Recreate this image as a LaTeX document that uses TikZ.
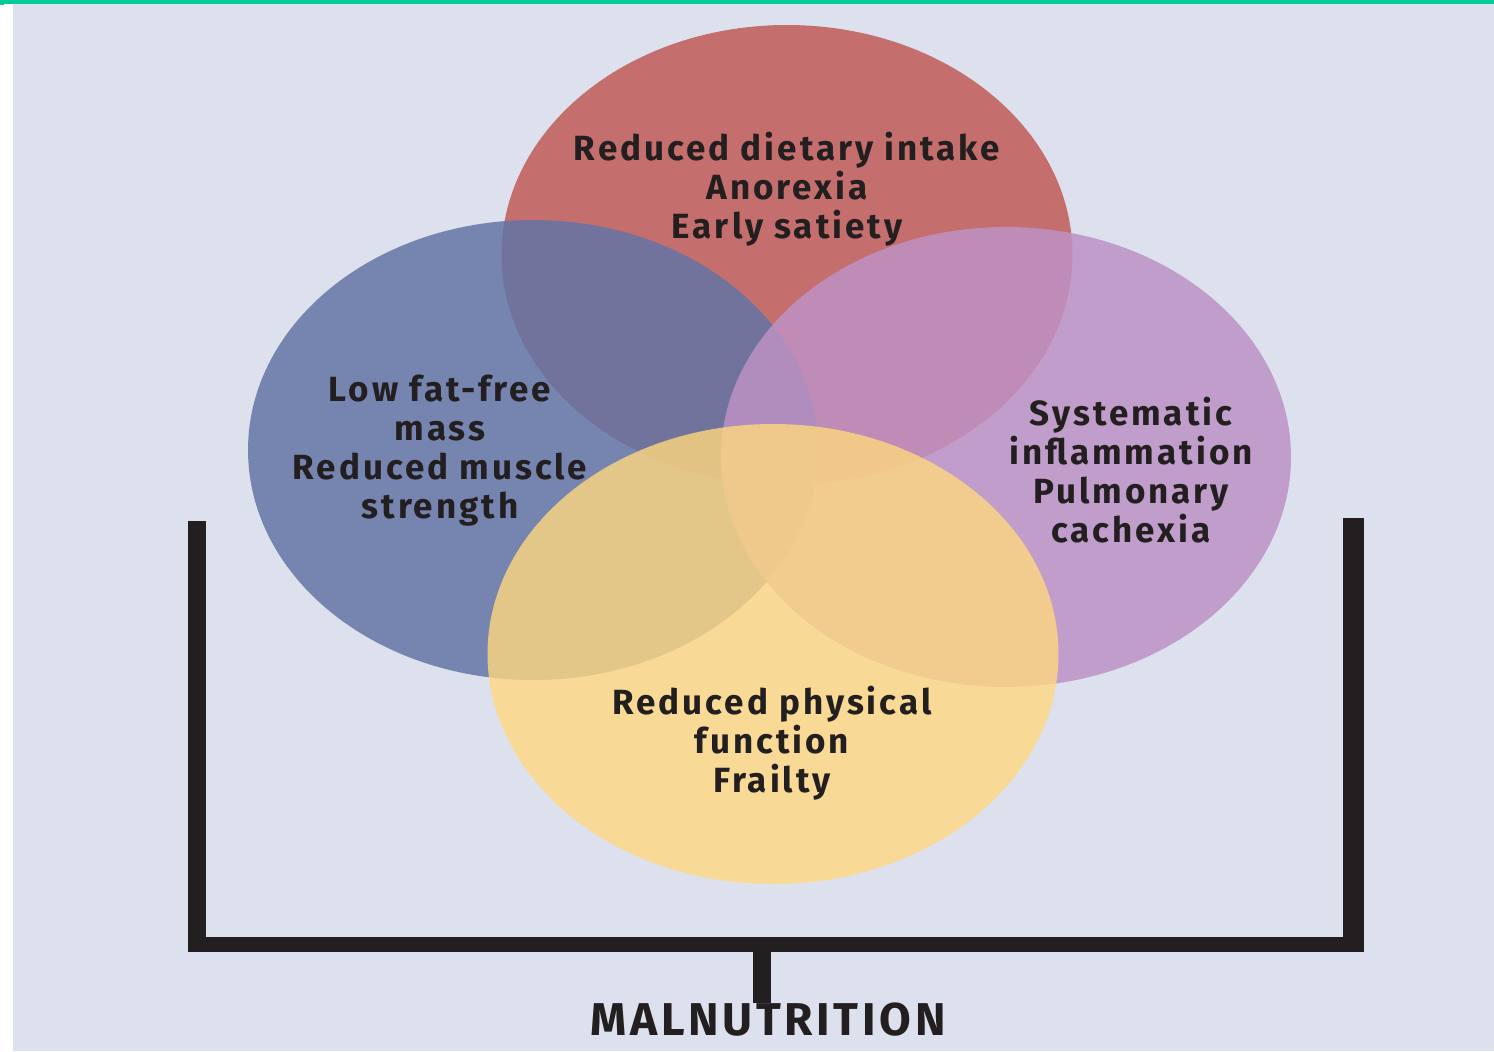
\documentclass[tikz,border=0pt]{standalone}
\usepackage{fontspec}
\newfontfamily\labelfont[LetterSpace=8.5]{Fira Sans Bold}
\newfontfamily\titlefont[LetterSpace=8]{Fira Sans Bold}
\definecolor{bgcol}{RGB}{221,225,238}
\definecolor{topgreen}{RGB}{3,204,153}
\definecolor{inkcol}{RGB}{35,31,32}
\definecolor{redfill}{RGB}{192,90,87}
\definecolor{bluefill}{RGB}{100,117,165}
\definecolor{purplefill}{RGB}{189,146,197}
\definecolor{yellowfill}{RGB}{255,216,127}
\tikzset{
  blob/.style={fill opacity=0.85},
  lbl/.style={text=inkcol, align=center, inner sep=0pt,
    font={\labelfont\fontsize{17.5}{19.5}\selectfont}},
  barpart/.style={fill=inkcol}
}
\begin{document}
\begin{tikzpicture}[x=0.5pt,y=-0.5pt]
\useasboundingbox (0,0) rectangle (1494,1051);
\fill[white] (0,0) rectangle (1494,1051);
\fill[bgcol] (13,4) rectangle (1494,1051);
\fill[topgreen] (0,0) rectangle (1494,4);
\fill[topgreen] (0,0) rectangle (4,5);
% ellipses
\fill[redfill, blob] (787,255) ellipse [x radius=285.5, y radius=230];
\fill[bluefill, blob] (533,450) ellipse [x radius=285, y radius=230];
\fill[purplefill, blob] (1006,457) ellipse [x radius=285, y radius=230];
\fill[yellowfill, fill opacity=0.8] (773,654) ellipse [x radius=285.5, y radius=230];
% bracket
\fill[barpart] (188,521) rectangle (206,952);
\fill[barpart] (188,937) rectangle (1364,952);
\fill[barpart] (1343,518) rectangle (1364,952);
\fill[barpart] (753,950) rectangle (771,1003);
% labels
\node[lbl] (diet) at (787,189) {Reduced dietary intake\\Anorexia\\Early satiety};
\node[lbl] (mass) at (440,451) {Low fat-free\\mass\\Reduced muscle\\strength};
\node[lbl] (infl) at (1131,470) {Systematic\\inflammation\\Pulmonary\\cachexia};
\node[lbl] (phys) at (772,743) {Reduced physical\\function\\Frailty};
\node[text=inkcol, inner sep=0pt, font={\titlefont\fontsize{23}{26}\selectfont}] (maln) at (768,1020) {MALNUTRITION};
\end{tikzpicture}
\end{document}
